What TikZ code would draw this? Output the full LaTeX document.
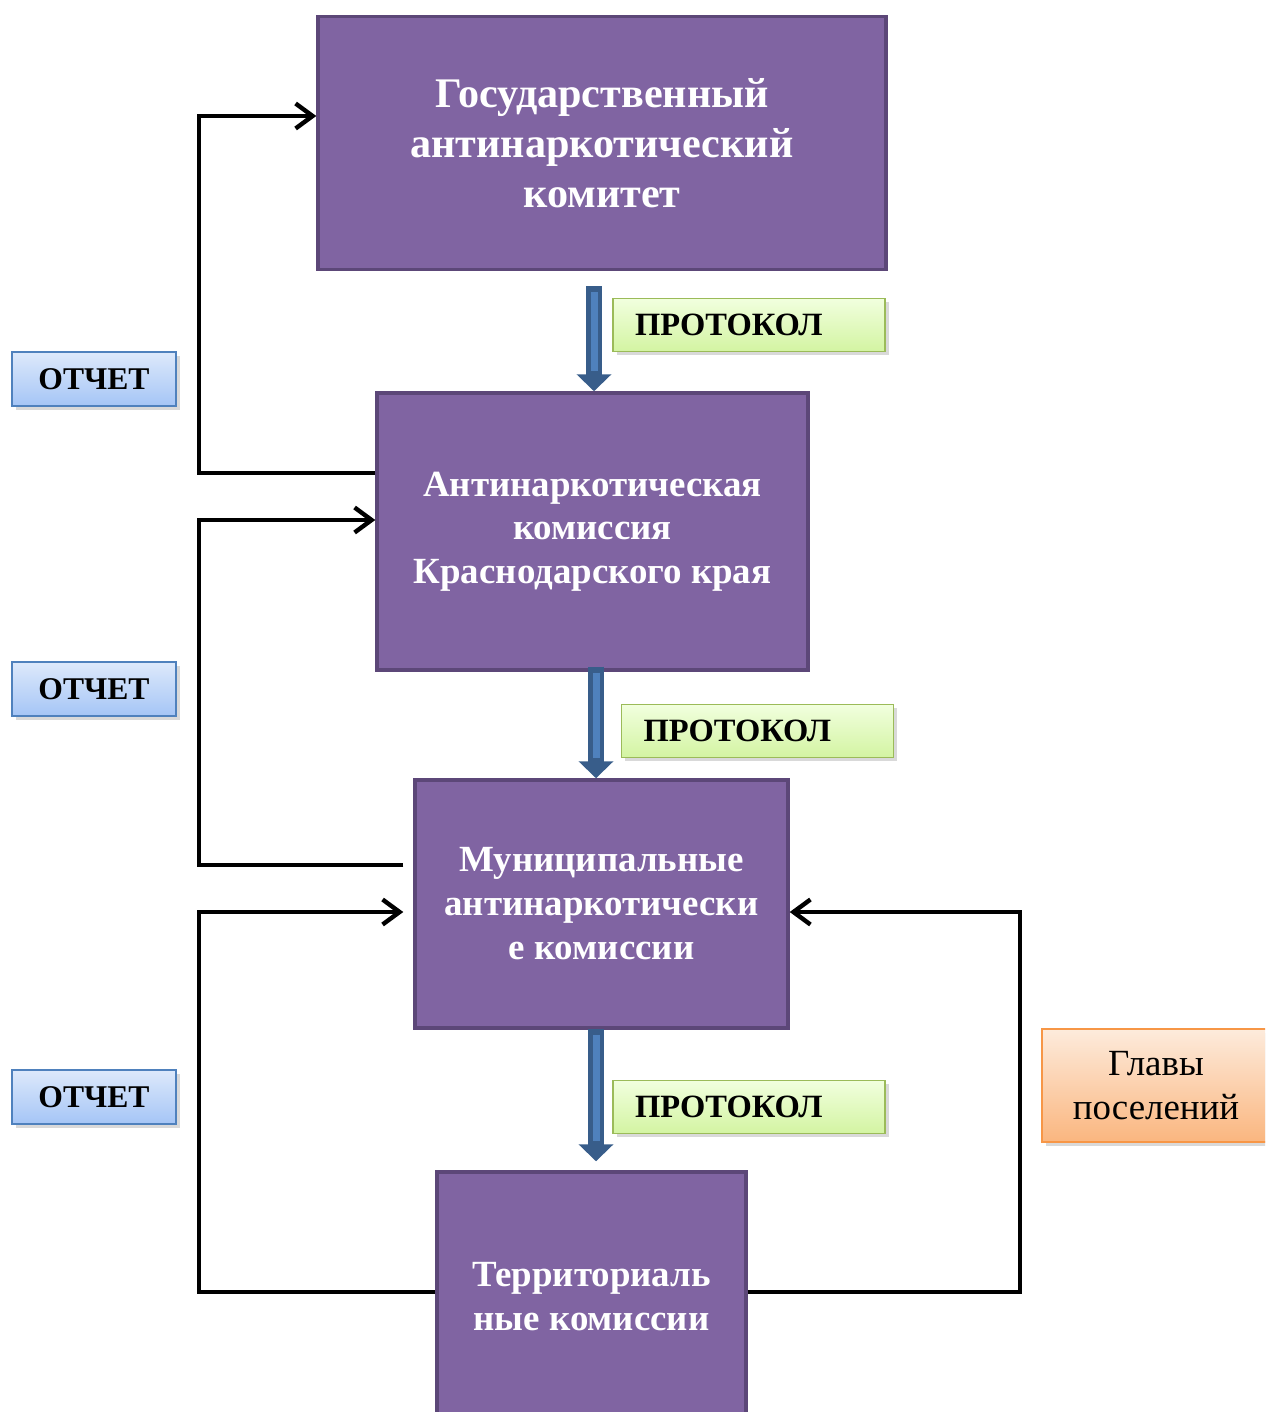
\documentclass[tikz,border=0pt]{standalone}
\usepackage{fontspec}
\setmainfont{Liberation Serif}
\usepackage{xcolor}
\usepackage{tikz}
\usetikzlibrary{calc}
\usetikzlibrary{arrows.meta}
\usetikzlibrary{shadows}
\definecolor{LilacBox}{HTML}{8064A2}
\definecolor{LilacEdge}{HTML}{5C4778}
\definecolor{LimeTop}{HTML}{F1FFDE}
\definecolor{LimeBottom}{HTML}{D3F4A2}
\definecolor{LimeEdge}{HTML}{9BBB59}
\definecolor{SkyTop}{HTML}{DDE9FB}
\definecolor{SkyBottom}{HTML}{A5C5F6}
\definecolor{SkyEdge}{HTML}{4F81BD}
\definecolor{PeachTop}{HTML}{FDEBDC}
\definecolor{PeachBottom}{HTML}{FAB67F}
\definecolor{PeachEdge}{HTML}{F79646}
\definecolor{FlowDark}{HTML}{385D8A}
\definecolor{FlowLight}{HTML}{4F81BD}

\begin{document}
\begin{tikzpicture}[x=0.02cm, y=-0.02cm,
  organ/.style={draw=LilacEdge, fill=LilacBox, line width=2pt, text=white,
    align=center, inner sep=0pt},
  protocol/.style={draw=LimeEdge, top color=LimeTop, bottom color=LimeBottom,
    line width=1pt, text width=4.56cm, inner xsep=0.44cm, minimum height=1.06cm,
    align=left, font=\bfseries\fontsize{18.5}{22}\selectfont,
    drop shadow={opacity=0.3, shadow xshift=2pt, shadow yshift=-2pt}},
  report/.style={draw=SkyEdge, top color=SkyTop, bottom color=SkyBottom,
    line width=1pt, minimum width=3.28cm, minimum height=1.08cm,
    font=\bfseries\fontsize{18}{22}\selectfont,
    drop shadow={opacity=0.3, shadow xshift=2pt, shadow yshift=-2pt}},
  feedback/.style={draw, line width=2.5pt,
    -{Straight Barb[length=0.34cm, width=0.5cm]}},
  flow/.style={draw=FlowDark, line width=0.32cm,
    -{Triangle[length=0.34cm, width=0.68cm]}},
  flowcore/.style={draw=FlowLight, line width=0.14cm}]

  \useasboundingbox (0,0) rectangle (1265,1412);
  \clip (0,0) rectangle (1265,1412);

  % main bodies
  \node[organ, minimum width=11.36cm, minimum height=5.06cm,
    font=\bfseries\fontsize{24}{28.4}\selectfont] (gak) at (602,143)
    {Государственный\\антинаркотический\\комитет};
  \node[organ, minimum width=8.62cm, minimum height=5.54cm,
    font=\bfseries\fontsize{21}{24.7}\selectfont] (kraj) at (592.5,531.5)
    {Антинаркотическая\\комиссия\\Краснодарского края};
  \node[organ, minimum width=7.46cm, minimum height=4.96cm,
    font=\bfseries\fontsize{21}{25}\selectfont] (mun) at (601.5,904)
    {Муниципальные\\антинаркотически\\е комиссии};
  \node[organ, minimum width=6.18cm, minimum height=5cm,
    font=\bfseries\fontsize{21}{25}\selectfont] (ter) at (591.5,1297)
    {Территориаль\\ные комиссии};

  % labels
  \node[protocol] (prot1) at (749,325) {ПРОТОКОЛ};
  \node[protocol] (prot2) at (757.5,731) {ПРОТОКОЛ};
  \node[protocol] (prot3) at (749,1107) {ПРОТОКОЛ};
  \node[report] (rep1) at (94,379) {ОТЧЕТ};
  \node[report] (rep2) at (94,689) {ОТЧЕТ};
  \node[report] (rep3) at (94,1097) {ОТЧЕТ};
  \node[draw=PeachEdge, top color=PeachTop, bottom color=PeachBottom,
    line width=1pt, minimum width=4.56cm, minimum height=2.26cm, align=center,
    font=\fontsize{21}{25.5}\selectfont,
    drop shadow={opacity=0.3, shadow xshift=2pt, shadow yshift=-2pt}]
    (heads) at (1156,1085.5) {Главы\\поселений};

  % protocols going down
  \coordinate (p1) at ($(gak.south)+(-8,15)$);
  \coordinate (p2) at ($(kraj.south)+(3.5,-5)$);
  \coordinate (p3) at ($(mun.south)+(-5.5,-1)$);
  \draw[flow] (p1) -- (p1 |- kraj.north);
  \draw[flowcore] ($(p1)+(0,6)$) -- ($(p1 |- kraj.north)+(0,-20)$);
  \draw[flow] (p2) -- (p2 |- mun.north);
  \draw[flowcore] ($(p2)+(0,6)$) -- ($(p2 |- mun.north)+(0,-20)$);
  \draw[flow, shorten >=0.18cm] (p3) -- (p3 |- ter.north);
  \draw[flowcore] ($(p3)+(0,6)$) -- ($(p3 |- ter.north)+(0,-29)$);

  % reports going up
  \draw[feedback] ($(kraj.west)+(0,-58.5)$) -- ++(-176,0)
    |- ($(gak.west)+(0,-27)$);
  \draw[feedback] ($(mun.west)+(-10,-39)$) -- ++(-204,0)
    |- ($(kraj.west)+(0,-11.5)$);
  \draw[feedback] ($(ter.west)+(0,-5)$) -- ++(-236,0)
    |- ($(mun.west)+(-10,8)$);
  \draw[feedback] ($(ter.east)+(0,-5)$) -- ++(272,0)
    |- ($(mun.east)+(0,8)$);

\end{tikzpicture}
\end{document}
